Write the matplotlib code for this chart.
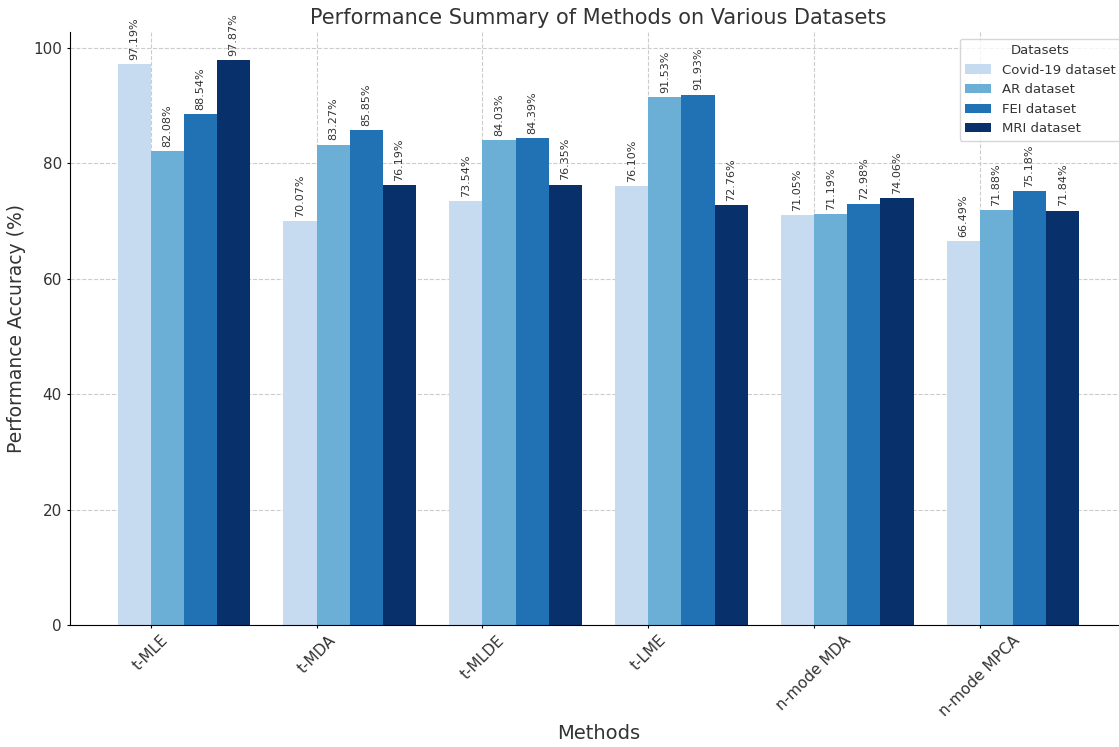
import numpy as np
import matplotlib
matplotlib.use('Agg')
import matplotlib.pyplot as plt

methods = ['t-MLE', 't-MDA', 't-MLDE', 't-LME', 'n-mode MDA', 'n-mode MPCA']
datasets = ['Covid-19 dataset', 'AR dataset', 'FEI dataset', 'MRI dataset']
covid = [97.19, 70.07, 73.54, 76.10, 71.05, 66.49]
ar = [82.08, 83.27, 84.03, 91.53, 71.19, 71.88]
fei = [88.54, 85.85, 84.39, 91.93, 72.98, 75.18]
mri = [97.87, 76.19, 76.35, 72.76, 74.06, 71.84]
colors = ['#c6dbef', '#6baed6', '#2171b5', '#08306b']

TEXT = '#333333'
plt.rc('font', size=11)

fig = plt.figure(figsize=(11.19, 7.47), dpi=100)
ax = fig.add_axes([0.0622, 0.1633, 0.9453, 0.7937])

x = np.arange(len(methods))
width = 0.2
series = [covid, ar, fei, mri]
for i, (vals, name, c) in enumerate(zip(series, datasets, colors)):
    pos = x + (i - 0.5) * width
    bars = ax.bar(pos, vals, width, label=name, color=c, zorder=2)
    for b, v in zip(bars, vals):
        ax.annotate(f'{v:.2f}%', (b.get_x() + b.get_width() / 2, v),
                    xytext=(0, 3), textcoords='offset points',
                    ha='center', va='bottom', rotation=90,
                    fontsize=8, color=TEXT)

ax.set_xticks(x)
ax.set_xticklabels(methods, rotation=45, fontsize=11, color=TEXT)
ax.tick_params(axis='both', length=2)
ax.tick_params(axis='y', labelsize=11, labelcolor=TEXT)
ax.set_xlabel('Methods', fontsize=14, color=TEXT)
ax.set_ylabel('Performance Accuracy (%)', fontsize=13.5, color=TEXT, labelpad=5)
ax.set_title('Performance Summary of Methods on Various Datasets', fontsize=15, color=TEXT)
ax.grid(True, linestyle='--', color='#cccccc', linewidth=0.8, zorder=0)
ax.set_axisbelow(True)
ax.spines['top'].set_visible(False)
ax.spines['right'].set_visible(False)

leg = ax.legend(title='Datasets', loc='upper right', fontsize=9.5, title_fontsize=9.5)
for t in leg.get_texts():
    t.set_color(TEXT)
leg.get_title().set_color(TEXT)

fig.savefig('out.png', dpi=100)
